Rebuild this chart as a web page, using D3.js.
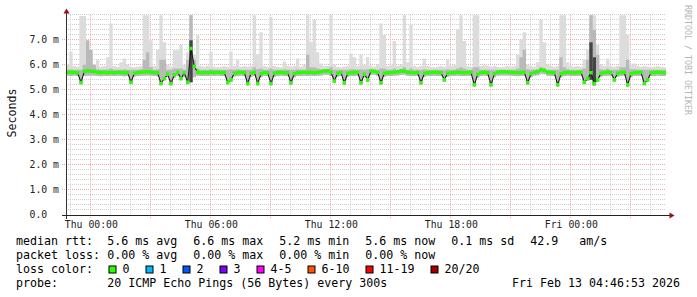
<!DOCTYPE html>
<html><head><meta charset="utf-8">
<script src="https://cdn.jsdelivr.net/npm/d3@7"></script>
<style>html,body{margin:0;padding:0;background:#fff;}svg{display:block;}</style>
</head><body>
<svg id="c" width="697" height="297"></svg>
<script>
// ---------- data (10-minute bins, Wed 22:46:53 .. Fri 04:46:53) ----------
const startTime = new Date(2026, 1, 11, 22, 46, 53);
const spanHours = 30;
const binMinutes = 10;

const medianRtt = [
 5.70,5.69,5.70,5.68,5.29,5.74, 5.75,5.74,5.73,5.70,5.69,5.70, 5.68,5.69,5.68,5.70,5.69,5.68,
 5.69,5.30,5.66,5.69,5.70,5.71, 5.72,5.70,5.69,5.68,5.25,5.45, 5.62,5.25,5.60,5.70,5.45,5.68,
 5.30,6.65,5.93,5.70,5.68,5.69, 5.68,5.70,5.69,5.70,5.68,5.69, 5.29,5.40,5.66,5.68,5.70,5.69,
 5.25,5.66,5.70,5.25,5.64,5.69, 5.68,5.25,5.66,5.69,5.70,5.68, 5.69,5.28,5.64,5.68,5.69,5.70,
 5.69,5.70,5.68,5.70,5.72,5.75, 5.76,5.70,5.35,5.66,5.69,5.28, 5.65,5.68,5.69,5.70,5.28,5.62,
 5.40,5.75,5.74,5.70,5.28,5.66, 5.68,5.69,5.70,5.72,5.75,5.74, 5.70,5.69,5.68,5.69,5.28,5.66,
 5.68,5.69,5.70,5.69,5.68,5.40, 5.66,5.68,5.69,5.70,5.69,5.68, 5.69,5.70,5.20,5.62,5.69,5.70,
 5.68,5.20,5.64,5.70,5.72,5.72, 5.71,5.70,5.69,5.68,5.69,5.70, 5.28,5.64,5.70,5.72,5.80,5.78,
 5.70,5.69,5.68,5.20,5.64,5.69, 5.70,5.69,5.68,5.69,5.70,5.30, 5.45,5.68,5.25,5.40,5.66,5.69,
 5.70,5.68,5.40,5.66,5.69,5.70, 5.20,5.64,5.68,5.69,5.70,5.25, 5.40,5.68,5.69,5.70,5.69,5.68
];
const smokeMax = [
 6.00,6.52,5.95,5.92,7.95,7.95, 6.98,6.40,5.95,6.18,5.92,5.95, 6.30,7.65,5.95,5.92,6.10,6.25,
 6.00,5.92,5.90,5.92,5.95,7.98, 7.98,6.98,5.95,6.60,7.98,6.90, 6.00,5.92,6.58,6.58,6.80,6.00,
 6.50,7.98,6.40,7.18,5.95,5.92, 5.95,6.52,5.92,5.90,5.92,5.95, 5.92,6.52,5.95,6.20,5.92,5.95,
 5.92,5.95,7.98,6.40,7.30,5.95, 5.92,7.90,5.95,5.92,5.90,6.13, 5.95,5.92,5.95,6.25,5.92,6.00,
 7.98,6.90,7.80,6.50,6.05,5.95, 5.95,7.98,6.00,5.92,5.90,5.92, 5.95,6.45,6.30,5.95,6.40,6.00,
 6.30,5.95,5.92,6.00,7.65,7.20, 5.95,6.00,6.95,5.95,6.00,7.98, 6.10,7.60,5.95,5.92,5.95,6.25,
 5.95,5.92,5.90,5.92,5.95,5.92, 6.20,5.95,6.00,7.40,7.98,6.95, 5.95,5.92,7.98,7.98,5.95,5.98,
 5.95,5.92,5.95,5.92,5.90,5.92, 5.95,5.92,5.95,6.40,7.00,7.30, 6.00,5.95,5.92,6.10,7.80,6.90,
 6.00,5.95,5.92,5.95,7.98,7.98, 6.10,5.95,5.92,5.95,5.92,6.20, 6.60,7.98,7.98,6.80,6.00,5.95,
 6.25,5.95,5.92,5.95,7.98,7.98, 7.20,6.00,6.05,5.95,5.92,5.95, 5.92,5.90,5.92,5.95,5.92,5.90
];
const smokeMid = [
 5.80,5.82,5.80,5.80,5.80,6.00, 6.98,6.60,6.00,5.82,5.80,5.80, 5.82,5.85,5.80,5.80,5.80,5.82,
 5.80,5.80,5.80,5.80,5.82,6.20, 6.50,5.90,5.80,5.82,6.20,6.20, 5.80,5.80,5.85,5.85,5.85,5.80,
 6.20,7.98,6.20,5.85,5.80,5.80, 5.80,5.82,5.80,5.80,5.80,5.80, 5.80,5.82,5.80,5.82,5.80,5.80,
 5.80,5.80,5.90,5.82,5.85,5.80, 5.80,5.85,5.80,5.80,5.80,5.82, 5.80,5.80,5.80,5.82,5.80,5.80,
 6.40,5.90,5.90,5.85,5.82,5.82, 5.82,5.90,5.80,5.80,5.80,5.80, 5.80,5.82,5.82,5.80,5.82,5.80,
 5.82,5.82,5.80,5.80,5.85,5.85, 5.80,5.80,5.85,5.80,5.82,5.90, 5.80,5.85,5.80,5.80,5.80,5.82,
 5.80,5.80,5.80,5.80,5.80,5.80, 5.82,5.80,5.80,5.85,5.90,5.85, 5.80,5.80,5.90,5.90,5.80,5.80,
 5.80,5.80,5.80,5.80,5.80,5.80, 5.80,5.80,5.80,5.85,6.30,6.60, 5.82,5.80,5.80,5.82,5.90,5.85,
 5.80,5.80,5.80,5.80,6.30,5.90, 5.82,5.80,5.80,5.80,5.80,5.85, 6.20,7.98,7.40,6.40,5.82,5.80,
 5.85,5.80,5.80,5.80,5.90,5.90, 6.20,5.82,5.82,5.80,5.80,5.80, 5.80,5.80,5.80,5.80,5.80,5.80
];
const smokeMin = [
 5.56,5.55,5.56,5.55,5.22,5.55, 5.56,5.57,5.56,5.55,5.54,5.55, 5.55,5.56,5.55,5.56,5.55,5.54,
 5.55,5.24,5.53,5.55,5.56,5.56, 5.57,5.56,5.55,5.54,5.18,5.38, 5.50,5.18,5.48,5.55,5.38,5.50,
 5.22,5.30,5.50,5.56,5.55,5.55, 5.55,5.56,5.55,5.56,5.55,5.55, 5.22,5.32,5.53,5.55,5.56,5.55,
 5.18,5.52,5.56,5.18,5.50,5.55, 5.55,5.18,5.52,5.55,5.56,5.55, 5.55,5.21,5.50,5.55,5.55,5.56,
 5.55,5.56,5.55,5.56,5.57,5.60, 5.60,5.55,5.28,5.52,5.55,5.21, 5.52,5.55,5.55,5.56,5.21,5.50,
 5.32,5.60,5.60,5.56,5.21,5.52, 5.55,5.55,5.56,5.57,5.60,5.60, 5.56,5.55,5.55,5.55,5.21,5.52,
 5.55,5.55,5.56,5.55,5.55,5.32, 5.52,5.55,5.55,5.56,5.55,5.55, 5.55,5.56,5.14,5.48,5.55,5.56,
 5.55,5.14,5.50,5.56,5.57,5.57, 5.57,5.56,5.55,5.55,5.55,5.56, 5.21,5.50,5.56,5.58,5.65,5.63,
 5.56,5.55,5.55,5.14,5.50,5.55, 5.56,5.55,5.55,5.55,5.56,5.22, 5.36,5.40,5.18,5.32,5.52,5.55,
 5.56,5.55,5.32,5.52,5.55,5.56, 5.14,5.50,5.55,5.55,5.56,5.18, 5.32,5.55,5.55,5.56,5.55,5.55
];
const darkBins = [37, 157, 158];
const darkTop = [6.98, 6.90, 6.30];

const yTickValues = [0, 1, 2, 3, 4, 5, 6, 7];
const yTickLabels = ["0.0", "1.0 m", "2.0 m", "3.0 m", "4.0 m", "5.0 m", "6.0 m", "7.0 m"];
const xTickTimes = [new Date(2026,1,12,0,0), new Date(2026,1,12,6,0), new Date(2026,1,12,12,0), new Date(2026,1,12,18,0), new Date(2026,1,13,0,0)];
const xTickLabels = ["Thu 00:00", "Thu 06:00", "Thu 12:00", "Thu 18:00", "Fri 00:00"];

const rttLabel = "median rtt:";
const rttStats = ["5.6 ms avg", "6.6 ms max", "5.2 ms min", "5.6 ms now", "0.1 ms sd", "42.9   am/s"];
const lossLabel = "packet loss:";
const lossStats = ["0.00 % avg", "0.00 % max", "0.00 % min", "0.00 % now"];
const lossColorLabel = "loss color:";
const lossLabels = ["0", "1", "2", "3", "4-5", "6-10", "11-19", "20/20"];
const lossColors = ["#26ff00", "#00b8ff", "#0059ff", "#7e00ff", "#ff00ff", "#ff5500", "#ff0000", "#a00000"];
const probeLabel = "probe:";
const probeText = "20 ICMP Echo Pings (56 Bytes) every 300s";
const dateText = "Fri Feb 13 04:46:53 2026";
const yTitle = "Seconds";
const watermark = "RRDTOOL / TOBI OETIKER";

// ---------- drawing ----------
const svg = d3.select("#c");
const MONO = "'DejaVu Sans Mono', monospace";
const endTime = new Date(startTime.getTime() + spanHours * 3600e3);
const binMs = binMinutes * 60e3;

const x = d3.scaleTime().domain([startTime, endTime]).range([66, 666]);
const y = d3.scaleLinear().domain([0, 8]).range([214.8, 14.8]);
const px = v => Math.floor(v) + 0.5;

const grid = svg.append("g");
const minorY = d3.range(1, 41).map(i => i * 0.2).filter(v => Math.abs(v - Math.round(v)) > 1e-6 || v > 7.5);
grid.selectAll(".hm").data(minorY).join("line")
  .attr("x1", 66).attr("x2", 666)
  .attr("y1", d => px(y(d))).attr("y2", d => px(y(d)))
  .attr("stroke", "#cfcfcf").attr("stroke-dasharray", "1,1");
const hours = d3.timeHour.range(startTime, endTime);
grid.selectAll(".vm").data(hours.filter(h => h.getHours() % 3 !== 0)).join("line")
  .attr("x1", d => px(x(d))).attr("x2", d => px(x(d)))
  .attr("y1", 14.8).attr("y2", 217)
  .attr("stroke", "#cfcfcf").attr("stroke-dasharray", "1,1");
grid.selectAll(".hM").data(yTickValues.filter(v => v > 0)).join("line")
  .attr("x1", 62).attr("x2", 666)
  .attr("y1", d => px(y(d))).attr("y2", d => px(y(d)))
  .attr("stroke", "#f0a8a8").attr("stroke-dasharray", "1,1");
grid.selectAll(".vM").data(hours.filter(h => h.getHours() % 3 === 0)).join("line")
  .attr("x1", d => px(x(d))).attr("x2", d => px(x(d)))
  .attr("y1", 14.8).attr("y2", 219)
  .attr("stroke", "#f0a8a8").attr("stroke-dasharray", "1,1");

const bins = medianRtt.map((m, i) => ({
  t: new Date(startTime.getTime() + i * binMs), med: m,
  hi: smokeMax[i], mid: smokeMid[i], lo: smokeMin[i]
}));
const stepPts = bins.concat([Object.assign({}, bins[bins.length - 1], { t: endTime })]);

const plot = svg.append("g");
plot.append("path").datum(stepPts)
  .attr("d", d3.area().curve(d3.curveStepAfter).x(d => x(d.t)).y0(d => y(d.lo)).y1(d => y(d.hi)))
  .attr("fill", "#dcdcdc");
plot.append("path").datum(stepPts)
  .attr("d", d3.area().curve(d3.curveStepAfter).x(d => x(d.t)).y0(d => y(d.lo)).y1(d => y(d.mid)))
  .attr("fill", "#b9b9b9");
plot.selectAll(".dk").data(darkBins.map((b, k) => ({ b: bins[b], top: darkTop[k] }))).join("rect")
  .attr("x", d => x(d.b.t)).attr("width", d => x(new Date(d.b.t.getTime() + binMs)) - x(d.b.t))
  .attr("y", d => y(d.top)).attr("height", d => y(d.b.lo) - y(d.top))
  .attr("fill", "#444");
plot.append("path").datum(bins)
  .attr("d", d3.line().x(d => x(new Date(d.t.getTime() + binMs / 2))).y(d => y(d.med)))
  .attr("fill", "none").attr("stroke", "#1a1a1a").attr("stroke-width", 1.1);
plot.append("path").datum(stepPts)
  .attr("d", d3.area().curve(d3.curveStepAfter).x(d => x(d.t)).y0(d => y(d.med) + 1.7).y1(d => y(d.med) - 1.7))
  .attr("fill", lossColors[0]);

const ax = svg.append("g");
ax.append("line").attr("x1", 66.5).attr("x2", 66.5).attr("y1", 219).attr("y2", 12).attr("stroke", "#333");
ax.append("line").attr("x1", 62).attr("x2", 670).attr("y1", 215.5).attr("y2", 215.5).attr("stroke", "#222");
ax.append("path").attr("d", "M63.5,13.5 L69.5,13.5 L66.5,8.5 Z").attr("fill", "#9a1010");
ax.append("path").attr("d", "M669.5,212.5 L669.5,218.5 L674.5,215.5 Z").attr("fill", "#9a1010");

svg.selectAll(".yl").data(yTickValues).join("text")
  .attr("x", 29.5).attr("y", d => y(d) + 3.5)
  .attr("font-family", MONO).attr("font-size", "9.8px").attr("fill", "#222")
  .text((d, i) => yTickLabels[i]);
svg.selectAll(".xl").data(xTickTimes).join("text")
  .attr("x", d => x(d) + 1).attr("y", 227.5).attr("text-anchor", "middle")
  .attr("font-family", MONO).attr("font-size", "9.8px").attr("fill", "#222")
  .text((d, i) => xTickLabels[i]);

svg.append("text").attr("transform", "translate(15.5,113) rotate(-90)")
  .attr("text-anchor", "middle").attr("font-family", MONO).attr("font-size", "11.6px").attr("fill", "#111")
  .text(yTitle);
svg.append("text").attr("transform", "translate(684.5,5) rotate(90)")
  .attr("font-family", MONO).attr("font-size", "8.3px").attr("fill", "#b5b5b5")
  .text(watermark);

const LF = "11.63px";
function lt(xp, yp, s, anchor) {
  return svg.append("text").attr("x", xp).attr("y", yp).attr("font-family", MONO).attr("font-size", LF)
    .attr("fill", "#000").attr("text-anchor", anchor || "start").attr("xml:space", "preserve")
    .style("white-space", "pre").text(s);
}
function row(yp, label, stats) {
  lt(16, yp, label);
  let xp = 107.3;
  stats.forEach(s => { const t = lt(xp, yp, s); xp += t.node().getComputedTextLength() + 16; });
}
row(245, rttLabel, rttStats);
row(259, lossLabel, lossStats);
lt(16, 273, lossColorLabel);
let bx = 108.5;
lossLabels.forEach((l, i) => {
  svg.append("rect").attr("x", bx + 0.5).attr("y", 266).attr("width", 7).attr("height", 7)
    .attr("fill", lossColors[i]).attr("stroke", "#000").attr("stroke-width", 1);
  const t = lt(bx + 14, 273, l);
  bx = bx + 14 + t.node().getComputedTextLength() + 16;
});
lt(16, 287, probeLabel);
lt(107.3, 287, probeText);
lt(680, 287, dateText, "end");
</script>
</body></html>
